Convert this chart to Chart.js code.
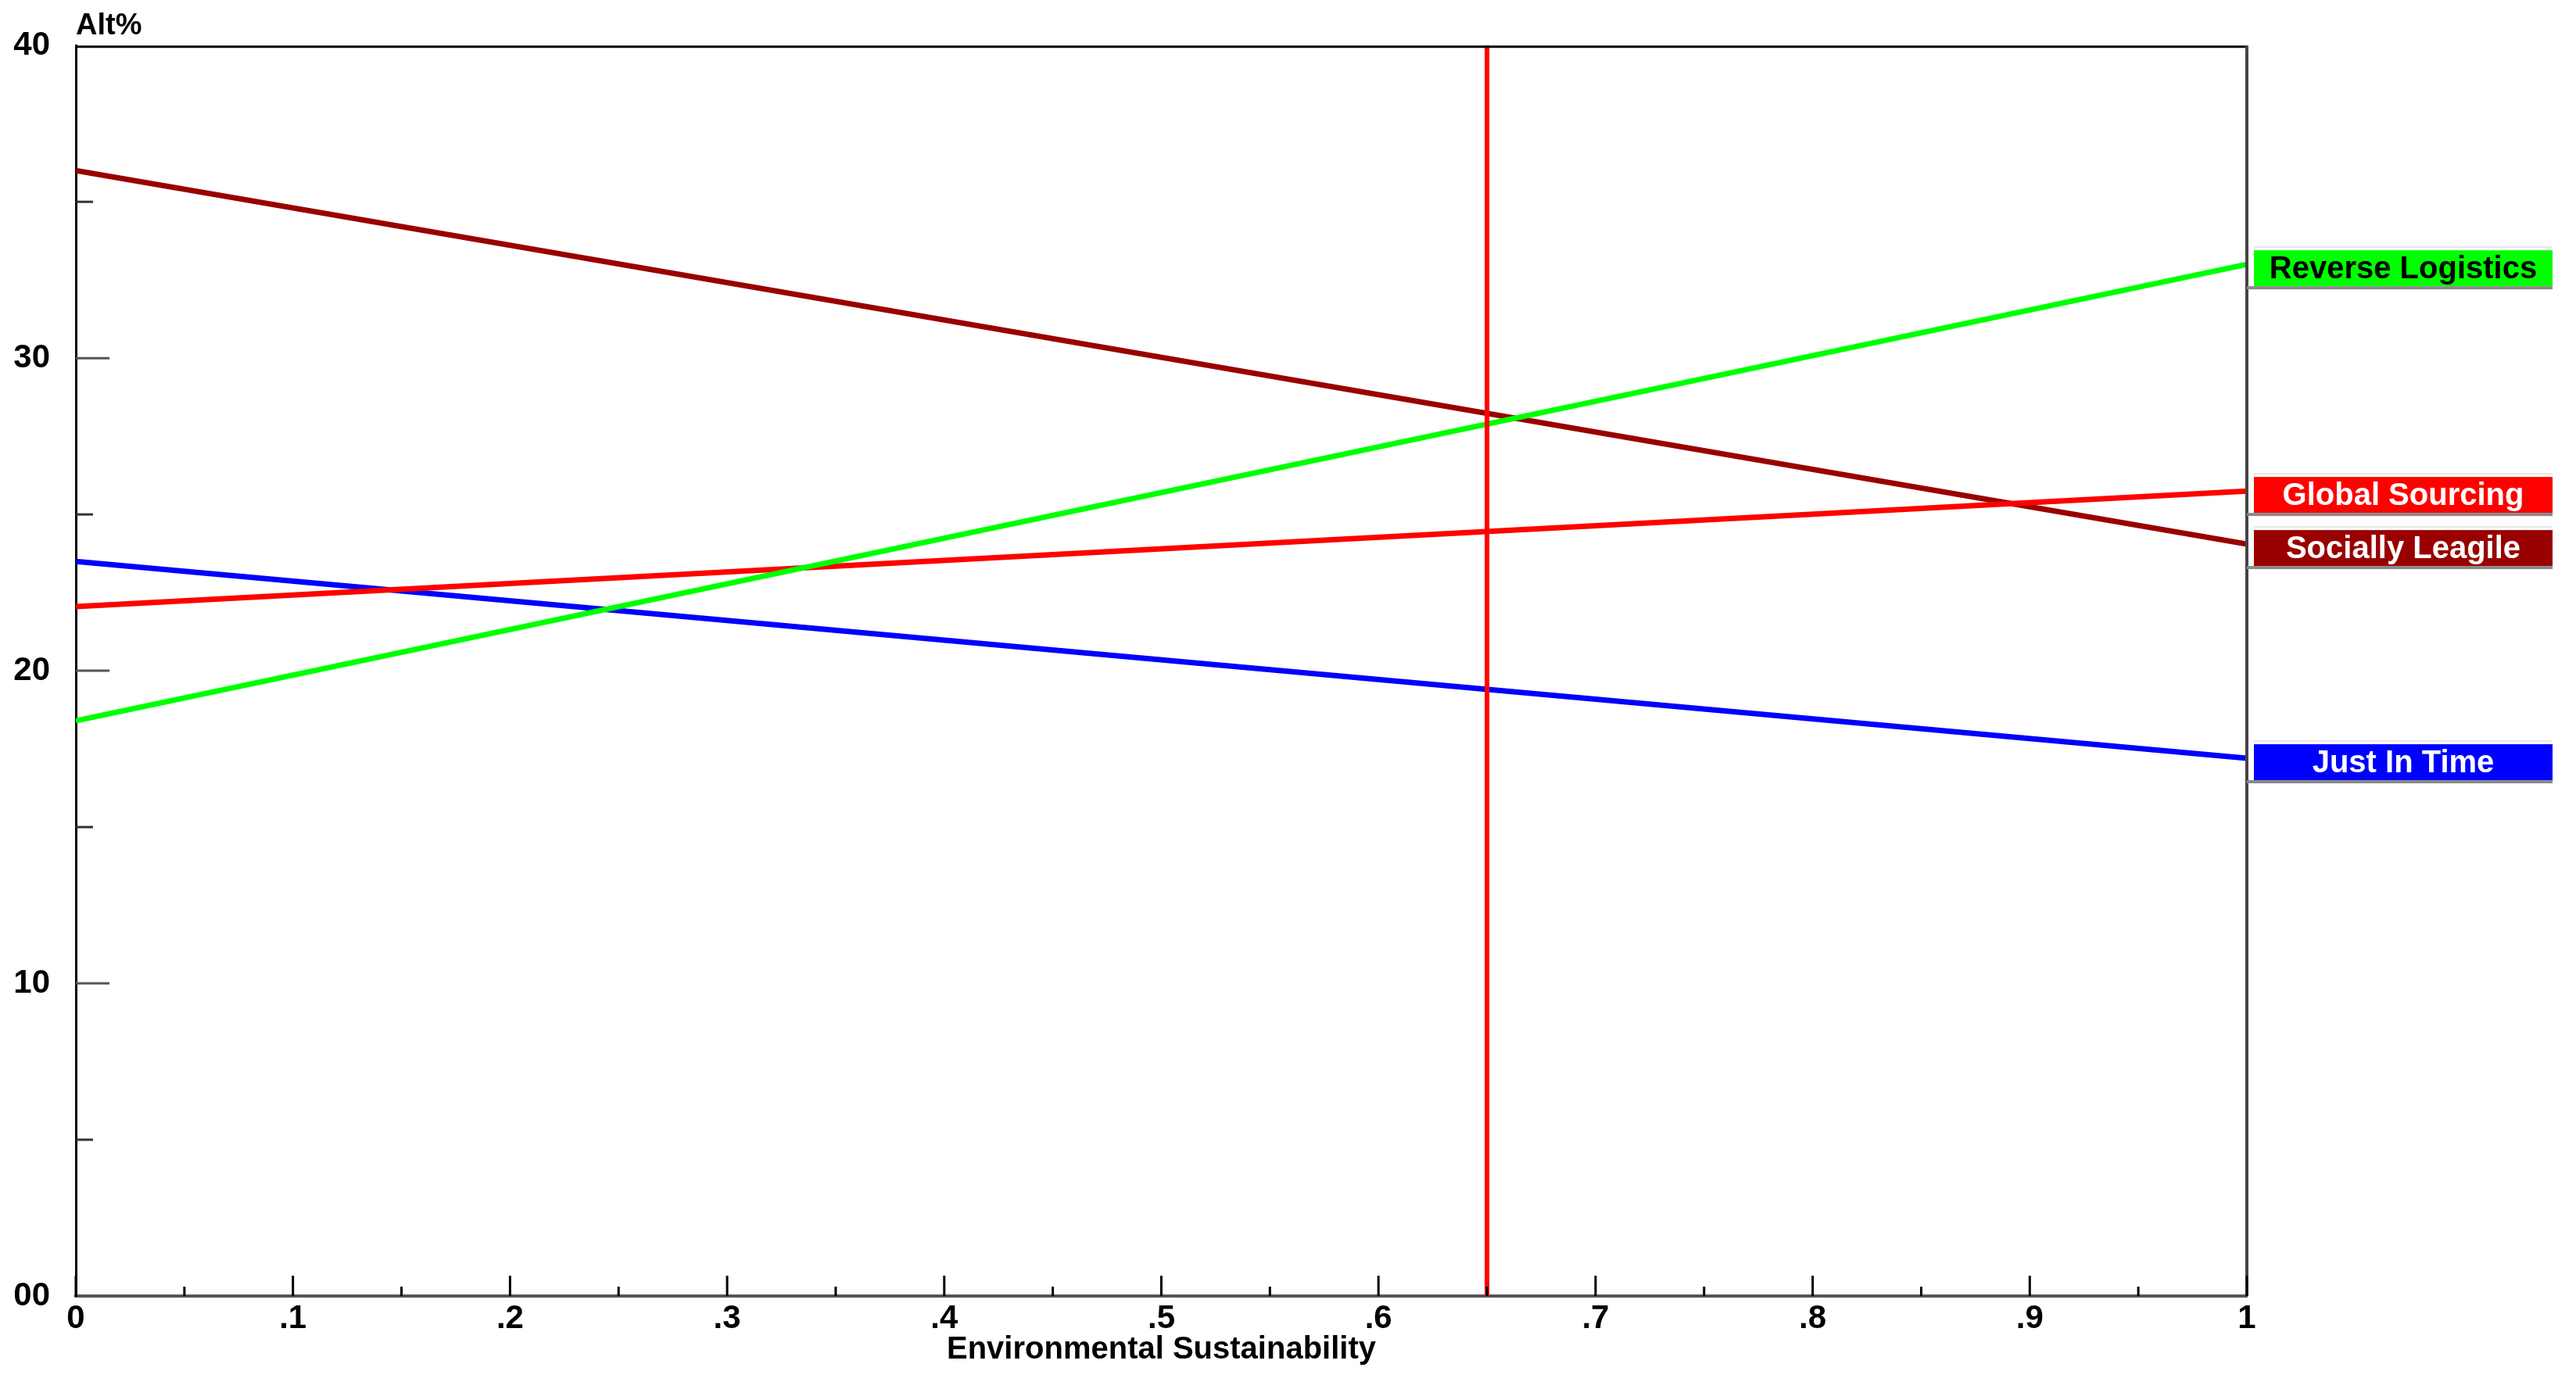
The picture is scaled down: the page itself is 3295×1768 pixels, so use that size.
<!DOCTYPE html>
<html>
<head>
<meta charset="utf-8">
<script src="https://cdn.jsdelivr.net/npm/chart.js@4.4.1/dist/chart.umd.min.js"></script>
<style>
  html, body { margin: 0; padding: 0; background: #ffffff; }
  #wrap { width: 3295px; height: 1768px; }
</style>
</head>
<body>
<div id="wrap"><canvas id="c" width="3295" height="1768"></canvas></div>
<script>
// ---- data ----
const xTickLabels = ['0', '.1', '.2', '.3', '.4', '.5', '.6', '.7', '.8', '.9', '1'];
const yTickLabels = ['00', '10', '20', '30', '40'];
const xTitle = 'Environmental Sustainability';
const yTitle = 'Alt%';
const seriesNames = ['Reverse Logistics', 'Global Sourcing', 'Socially Leagile', 'Just In Time'];
const seriesColors = ['#00ff00', '#ff0000', '#990000', '#0000ff'];
const labelTextColors = ['#000000', '#ffffff', '#ffffff', '#ffffff'];
const xValues = [0, 1];
const reverseLogistics = [18.4, 33.0];
const globalSourcing = [22.05, 25.75];
const sociallyLeagile = [36.0, 24.05];
const justInTime = [23.5, 17.2];
const markerX = [0.65, 0.65];
const markerY = [0, 40];

const seriesValues = [reverseLogistics, globalSourcing, sociallyLeagile, justInTime];
const FONT = '"Liberation Sans", Arial, sans-serif';

function pts(xs, ys) { return xs.map((x, i) => ({ x: x, y: ys[i] })); }

const datasets = [{
  label: 'marker',
  data: pts(markerX, markerY),
  borderColor: '#ff0000',
  borderWidth: 6,
  showLine: true,
  pointRadius: 0,
  fill: false
}];
seriesNames.forEach((name, i) => {
  datasets.push({
    label: name,
    data: pts(xValues, seriesValues[i]),
    borderColor: seriesColors[i],
    backgroundColor: seriesColors[i],
    borderWidth: 7,
    showLine: true,
    pointRadius: 0,
    fill: false
  });
});

const decorPlugin = {
  id: 'decor',
  afterDatasetsDraw(chart) {
    const ctx = chart.ctx;
    const xs = chart.scales.x, ys = chart.scales.y;
    const a = chart.chartArea;
    ctx.save();
    // top & right frame
    ctx.lineCap = 'butt';
    ctx.strokeStyle = '#000000';
    ctx.lineWidth = 3;
    ctx.beginPath();
    ctx.moveTo(a.left, a.top + 1.5);
    ctx.lineTo(a.right, a.top + 1.5);
    ctx.stroke();
    ctx.strokeStyle = '#444444';
    ctx.lineWidth = 4;
    ctx.beginPath();
    ctx.moveTo(a.right, a.top);
    ctx.lineTo(a.right, a.bottom);
    ctx.stroke();

    // inner ticks on x axis
    ctx.strokeStyle = '#000000';
    ctx.lineWidth = 3;
    const xt = xs.ticks;
    for (let i = 0; i < xt.length; i++) {
      const px = xs.getPixelForValue(xt[i].value);
      ctx.beginPath();
      ctx.moveTo(px, a.bottom);
      ctx.lineTo(px, a.bottom - 26);
      ctx.stroke();
      if (i < xt.length - 1) {
        const mx = (px + xs.getPixelForValue(xt[i + 1].value)) / 2;
        ctx.beginPath();
        ctx.moveTo(mx, a.bottom);
        ctx.lineTo(mx, a.bottom - 12);
        ctx.stroke();
      }
    }
    // inner ticks on y axis
    const yt = ys.ticks;
    for (let i = 0; i < yt.length; i++) {
      const py = ys.getPixelForValue(yt[i].value);
      if (i > 0 && i < yt.length - 1) {
        ctx.strokeStyle = '#555555';
        ctx.beginPath();
        ctx.moveTo(a.left, py);
        ctx.lineTo(a.left + 43, py);
        ctx.stroke();
      }
      if (i < yt.length - 1) {
        const my = (py + ys.getPixelForValue(yt[i + 1].value)) / 2;
        ctx.strokeStyle = '#333333';
        ctx.beginPath();
        ctx.moveTo(a.left, my);
        ctx.lineTo(a.left + 22, my);
        ctx.stroke();
      }
    }

    // end-of-line labels
    const bx = a.right + 9, bw = 382, bh = 46;
    ctx.font = 'bold 40px ' + FONT;
    ctx.textAlign = 'center';
    ctx.textBaseline = 'middle';
    seriesNames.forEach((name, i) => {
      const vals = seriesValues[i];
      const cy = ys.getPixelForValue(vals[vals.length - 1]) + 5;
      const top = cy - bh / 2;
      ctx.fillStyle = '#e6e6e6';
      ctx.fillRect(bx, top - 5, bw, 2);
      ctx.fillStyle = seriesColors[i];
      ctx.fillRect(bx, top, bw, bh);
      ctx.fillStyle = '#888888';
      ctx.fillRect(a.right, top + bh, bw + 9, 4);
      ctx.fillStyle = labelTextColors[i];
      ctx.fillText(name, bx + bw / 2, cy + 2);
    });
    ctx.restore();
  },
  afterDraw(chart) {
    const ctx = chart.ctx;
    const a = chart.chartArea;
    ctx.save();
    ctx.font = 'bold 38px ' + FONT;
    ctx.fillStyle = '#000000';
    ctx.textAlign = 'left';
    ctx.textBaseline = 'middle';
    ctx.fillText(yTitle, a.left, 34);
    ctx.restore();
  }
};

new Chart(document.getElementById('c'), {
  type: 'scatter',
  data: { datasets: datasets },
  options: {
    responsive: false,
    devicePixelRatio: 1,
    animation: false,
    events: [],
    layout: { padding: { left: 0, top: 57, right: 421, bottom: 0 } },
    plugins: { legend: { display: false }, tooltip: { enabled: false }, title: { display: false } },
    scales: {
      x: {
        type: 'linear',
        min: 0, max: 1,
        afterFit: (s) => { s.height = 110; },
        grid: { display: true, drawOnChartArea: false, drawTicks: false },
        border: { display: true, color: '#555555', width: 4 },
        ticks: {
          stepSize: 0.1,
          autoSkip: false,
          maxRotation: 0,
          padding: 4,
          color: '#000000',
          font: { family: FONT, size: 42, weight: 'bold' },
          callback: (v, i) => xTickLabels[i]
        },
        title: {
          display: true,
          text: xTitle,
          color: '#000000',
          font: { family: FONT, size: 40, weight: 'bold' },
          padding: { top: 0, bottom: 17 }
        }
      },
      y: {
        type: 'linear',
        min: 0, max: 40,
        afterFit: (s) => { s.width = 97; },
        grid: { display: true, drawOnChartArea: false, drawTicks: false },
        border: { display: true, color: '#000000', width: 3 },
        ticks: {
          stepSize: 10,
          padding: 33,
          color: '#000000',
          font: { family: FONT, size: 42, weight: 'bold' },
          callback: (v, i) => yTickLabels[i]
        }
      }
    }
  },
  plugins: [decorPlugin]
});
</script>
</body>
</html>
